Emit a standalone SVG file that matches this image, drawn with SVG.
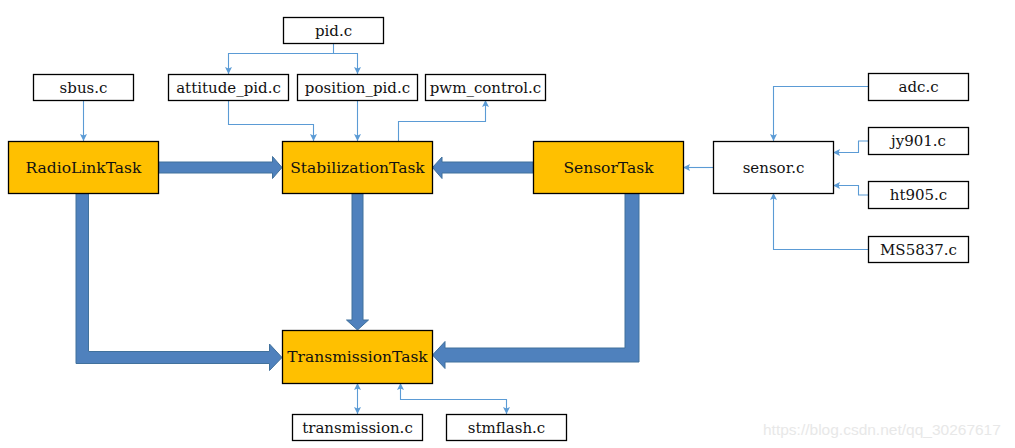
<svg xmlns="http://www.w3.org/2000/svg" width="1015" height="448" viewBox="0 0 1015 448">
<style>
.box{fill:#fff;stroke:#000;stroke-width:1.3}
.task{fill:#ffc000;stroke:#000;stroke-width:1.3}
.t{font-family:"DejaVu Serif","Liberation Serif",serif;font-size:15px;fill:#111;text-anchor:middle}
.tt{font-family:"DejaVu Serif","Liberation Serif",serif;font-size:15.5px;fill:#111;text-anchor:middle}
.thin{fill:none;stroke:#5b9bd5;stroke-width:1.1}
.fat{fill:#4f81bd;stroke:#41719c;stroke-width:1}
.wm{font-family:"Liberation Sans",Arial,sans-serif;font-size:15.5px;fill:#e8e8e8}
</style>
<defs>
<marker id="ah" viewBox="0 0 10 10" refX="10" refY="5" markerWidth="7" markerHeight="7" markerUnits="userSpaceOnUse" orient="auto-start-reverse">
<path d="M0,0 L10,5 L0,10 L2,5 z" fill="#5b9bd5"/>
</marker>
</defs>
<g id="connectors">
<path class="fat" d="M158,162 H272.5 V156.5 L282,167.5 L272.5,178.5 V173 H158 Z"/>
<path class="fat" d="M533,162 H442 V157 L432.5,167.5 L442,178.5 V173 H533 Z"/>
<path class="fat" d="M352,193 V320 H346.5 L357.5,330 L368.5,320 H363 V193 Z"/>
<path class="fat" d="M76,193 V363.5 H269.5 V370.5 L282,357.5 L269.5,344 V351.5 H88.5 V193 Z"/>
<path class="fat" d="M639,193 V362 H445 V368.5 L432.5,355 L445,341.5 V348 H625 V193 Z"/>
<path class="thin" marker-end="url(#ah)" d="M83.5,100 V141"/>
<path class="thin" marker-end="url(#ah)" d="M333.5,43 V53.5 H228.5 V74"/>
<path class="thin" marker-end="url(#ah)" d="M333.5,53.5 H357.5 V74"/>
<path class="thin" marker-end="url(#ah)" d="M228.5,100 V124.5 H313.5 V141"/>
<path class="thin" marker-end="url(#ah)" d="M357.5,100 V141"/>
<path class="thin" marker-end="url(#ah)" d="M398.5,141 V121.5 H485.5 V100"/>
<path class="thin" marker-end="url(#ah)" d="M868,86.5 H773.5 V141"/>
<path class="thin" marker-end="url(#ah)" d="M868,141 H858.5 V152.5 H833"/>
<path class="thin" marker-end="url(#ah)" d="M868,195 H858.5 V185.5 H833"/>
<path class="thin" marker-end="url(#ah)" d="M868,249.5 H773.5 V193"/>
<path class="thin" marker-end="url(#ah)" d="M713,167.5 H683"/>
<path class="thin" marker-start="url(#ah)" marker-end="url(#ah)" d="M357.5,383 V414"/>
<path class="thin" marker-start="url(#ah)" marker-end="url(#ah)" d="M400.5,383 V399.5 H506.5 V414"/>
</g>
<g id="pid"><rect class="box" x="283.5" y="17.5" width="100" height="26"/><text class="t" x="333.5" y="35.5">pid.c</text></g>
<g id="sbus"><rect class="box" x="33.5" y="74.5" width="100" height="26"/><text class="t" x="83.5" y="92.5">sbus.c</text></g>
<g id="attitude_pid"><rect class="box" x="168.5" y="74.5" width="120" height="26"/><text class="t" x="228.5" y="92.5">attitude_pid.c</text></g>
<g id="position_pid"><rect class="box" x="297.5" y="74.5" width="120" height="26"/><text class="t" x="357.5" y="92.5">position_pid.c</text></g>
<g id="pwm_control"><rect class="box" x="425.5" y="74.5" width="120" height="26"/><text class="t" x="485.5" y="92.5">pwm_control.c</text></g>
<g id="adc"><rect class="box" x="868.5" y="73.5" width="100" height="27"/><text class="t" x="918.5" y="92">adc.c</text></g>
<g id="jy901"><rect class="box" x="868.5" y="127.5" width="100" height="27"/><text class="t" x="918.5" y="146">jy901.c</text></g>
<g id="ht905"><rect class="box" x="868.5" y="181.5" width="100" height="27"/><text class="t" x="918.5" y="200">ht905.c</text></g>
<g id="ms5837"><rect class="box" x="868.5" y="236.5" width="100" height="26"/><text class="t" x="918.5" y="254.5">MS5837.c</text></g>
<g id="sensor"><rect class="box" x="713.5" y="141.5" width="120" height="52"/><text class="t" x="773.5" y="172.5">sensor.c</text></g>
<g id="radiolink"><rect class="task" x="8.5" y="141.5" width="150" height="52"/><text class="tt" x="83.5" y="172.5">RadioLinkTask</text></g>
<g id="stabilization"><rect class="task" x="282.5" y="141.5" width="150" height="52"/><text class="tt" x="357.5" y="172.5">StabilizationTask</text></g>
<g id="sensortask"><rect class="task" x="533.5" y="141.5" width="150" height="52"/><text class="tt" x="608.5" y="172.5">SensorTask</text></g>
<g id="transmissiontask"><rect class="task" x="282.5" y="330.5" width="150" height="53"/><text class="tt" x="357.5" y="361.5">TransmissionTask</text></g>
<g id="transmission"><rect class="box" x="292.5" y="414.5" width="130" height="26"/><text class="t" x="357.5" y="432.5">transmission.c</text></g>
<g id="stmflash"><rect class="box" x="446.5" y="414.5" width="120" height="26"/><text class="t" x="506.5" y="432.5">stmflash.c</text></g>
<text class="wm" x="763" y="435">https://blog.csdn.net/qq_30267617</text>
</svg>
